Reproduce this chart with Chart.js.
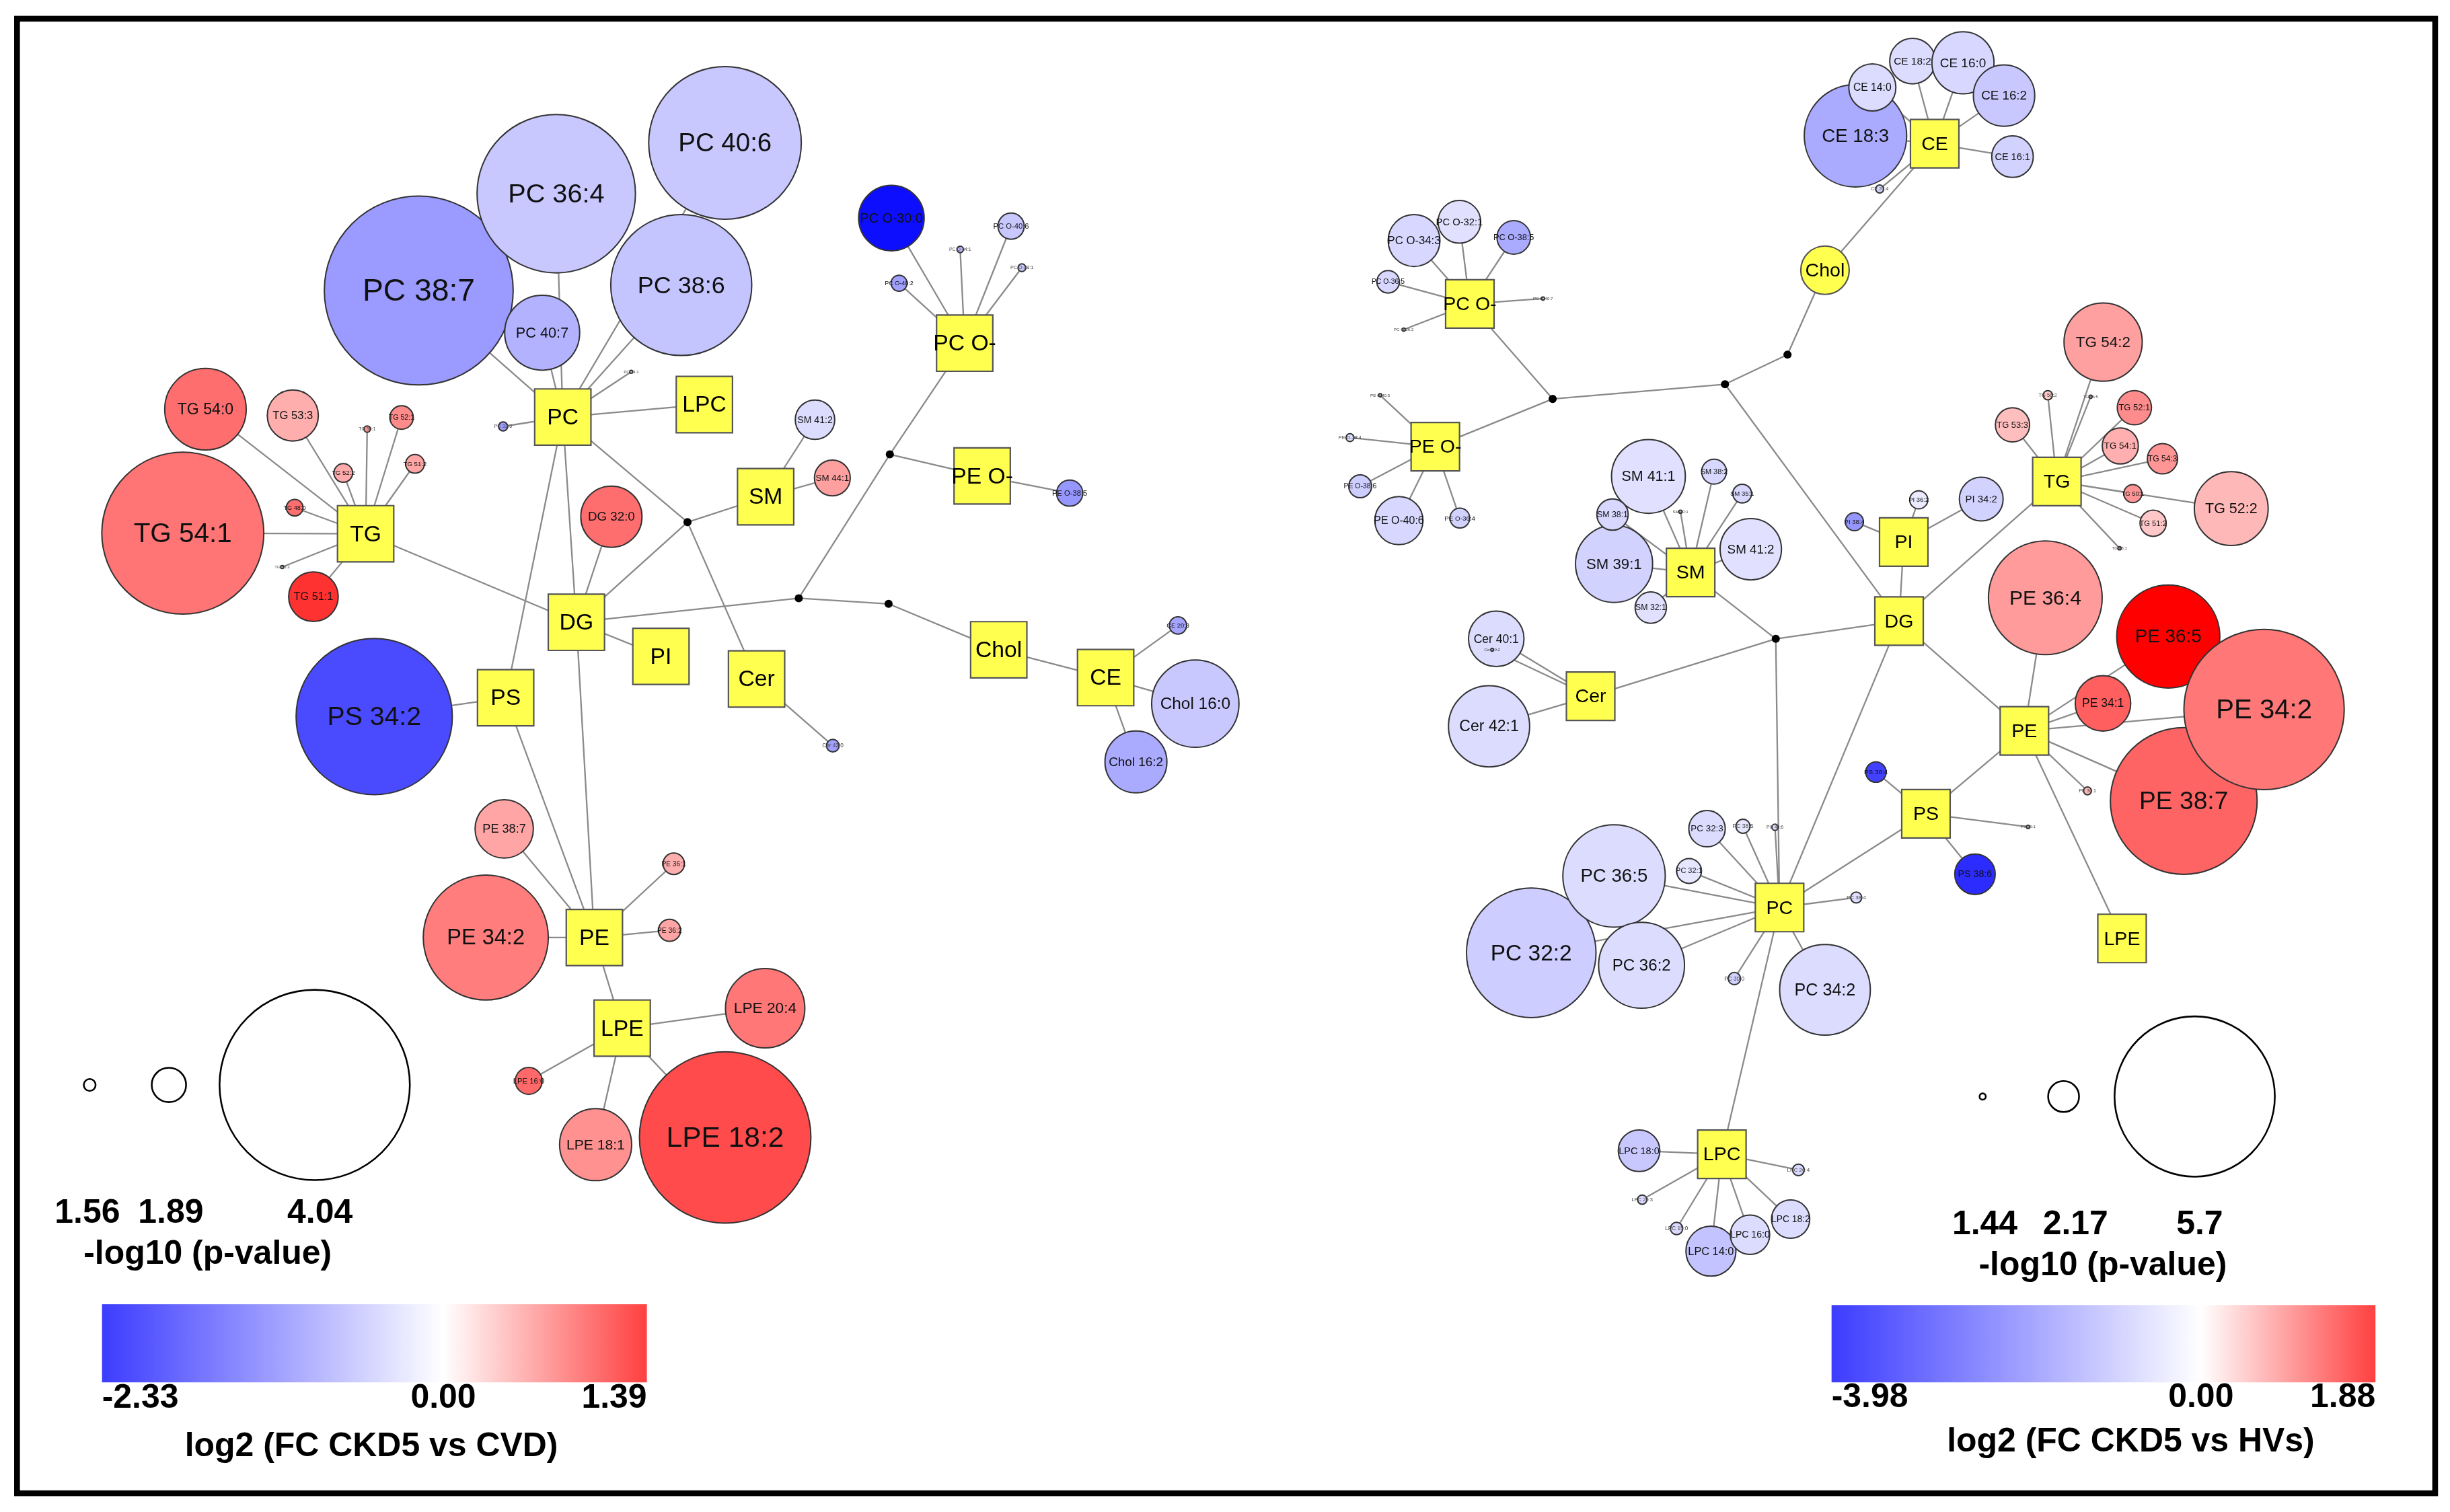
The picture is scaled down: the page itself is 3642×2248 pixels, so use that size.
<!DOCTYPE html>
<html>
<head>
<meta charset="utf-8">
<script src="https://cdn.jsdelivr.net/npm/chart.js@4.4.1/dist/chart.umd.min.js"></script>
<style>
html, body { margin: 0; padding: 0; background: #fff; }
canvas { display: block; }
</style>
</head>
<body>
<canvas id="net" width="3642" height="2248"></canvas>
<script>
// layout grid the node coordinates are read in (reference scaled to 1568 wide)
const W = 1568, H = 968;

// ---------- left network: CKD5 vs CVD ----------
const leftNames = ['PC 38:7','PC 36:4','PC 40:6','PC 38:6','PC 40:7','PC 34:1','PC 32:0',
  'TG 54:1','TG 54:0','TG 53:3','TG 51:1','TG 52:1','TG 52:2','TG 51:2','TG 48:0','TG 50:1','TG 56:2',
  'DG 32:0','SM 41:2','SM 44:1',
  'PC O-30:0','PC O-40:6','PC O-34:1','PC O-38:1','PC O-40:2',
  'PE O-38:5','Cer 42:0',
  'Chol 16:0','Chol 16:2','CE 20:3',
  'PS 34:2',
  'PE 34:2','PE 38:7','PE 36:1','PE 36:2',
  'LPE 18:2','LPE 20:4','LPE 18:1','LPE 16:0'];
const leftClass = ['PC','PC','PC','PC','PC','PC','PC',
  'TG','TG','TG','TG','TG','TG','TG','TG','TG','TG',
  'DG','SM','SM',
  'PC O-','PC O-','PC O-','PC O-','PC O-',
  'PE O-','Cer',
  'CE','CE','CE',
  'PS',
  'PE','PE','PE','PE',
  'LPE','LPE','LPE','LPE'];
const leftX = [268,356,464,436,347,404,322, 117,131.5,187.4,200.6,257,219.7,265.6,188.6,235,180.6,
  391.3,521.6,532.7, 570.5,647.1,614.5,654,575.4, 684.6,533, 765,727,753.9, 239.5,
  310.9,322.7,431.2,428.5, 464.1,489.7,381.2,338.4];
const leftY = [186,124,91.5,182.5,213,238,273, 341.3,262,266,382,267.3,302.8,297,325,274.7,363,
  330.8,268.7,306, 139.6,144.8,159.7,171.4,181.3, 315.7,477.4, 450.5,487.8,400.4, 458.8,
  600.2,530.7,553,595.6, 728.2,645.5,732.8,692];
const leftLogP = [4.02,3.60,3.52,3.36,2.45,1.43,1.52, 3.65,2.54,2.12,2.10,1.73,1.66,1.66,1.63,1.48,1.43,
  2.26,1.96,1.91, 2.32,1.77,1.48,1.50,1.62, 1.77,1.57, 2.62,2.27,1.64, 3.57,
  3.14,2.22,1.70,1.71, 3.78,2.51,2.41,1.78];
const leftFC = [-0.92,-0.50,-0.50,-0.54,-0.70,-0.30,-0.90, 0.76,0.79,0.44,1.12,0.63,0.46,0.49,0.79,0.55,0.30,
  0.79,-0.32,0.52, -2.20,-0.50,-0.60,-0.50,-0.87, -0.96,-0.87, -0.50,-0.78,-0.82, -1.65,
  0.71,0.49,0.44,0.49, 0.98,0.74,0.60,0.82];
const leftHubs = ['PC','LPC','TG','DG','PI','PS','Cer','SM','PC O-','PE O-','Chol','CE','PE','LPE'];
const leftHubX = [360.2,450.8,234,368.9,423,323.6,484.2,490,617.4,628.6,639.2,707.6,380.4,398.2];
const leftHubY = [267,259,341.7,398.4,420.2,446.7,434.7,318,219.7,304.7,416,433.8,600.2,658.2];
const leftJunctX = [440,569.5,511.2,568.7];
const leftJunctY = [334.3,290.9,383,386.6];
const leftLinks = [['PC','LPC'],['PC','DG'],['PC','PS'],['PC','j1'],['j1','SM'],['j1','Cer'],['j1','DG'],
  ['TG','DG'],['DG','PI'],['DG','PE'],['DG','j3'],['j3','j2'],['j2','PC O-'],['j2','PE O-'],
  ['j3','j4'],['j4','Chol'],['Chol','CE'],['PS','PE'],['PE','LPE']];
const leftPTicks = [1.56, 1.89, 4.04];
const leftFCRange = [-2.33, 1.39];

// ---------- right network: CKD5 vs HVs ----------
const rightNames = ['CE 18:3','CE 14:0','CE 18:2','CE 16:0','CE 16:2','CE 16:1','CE 20:4',
  'PC O-34:3','PC O-32:1','PC O-38:5','PC O-36:5','PC O-40:7','PC O-36:2',
  'PE O-40:6','PE O-38:6','PE O-36:4','PE O-38:4','PE O-40:5',
  'SM 41:1','SM 39:1','SM 41:2','SM 38:1','SM 32:1','SM 38:2','SM 35:1','SM 40:1',
  'Cer 40:1','Cer 42:1','Cer 40:2',
  'PI 34:2','PI 36:2','PI 38:4',
  'TG 54:2','TG 53:3','TG 52:1','TG 54:1','TG 54:3','TG 52:2','TG 50:1','TG 51:2','TG 56:2','TG 54:5','TG 48:1',
  'PE 36:4','PE 36:5','PE 38:7','PE 34:2','PE 34:1','PE 36:1',
  'PS 38:4','PS 38:6','PS 36:1',
  'PC 32:2','PC 36:5','PC 36:2','PC 34:2','PC 32:3','PC 38:5','PC 40:6','PC 32:1','PC 38:4','PC 30:0',
  'LPC 18:0','LPC 20:4','LPC 20:3','LPC 15:0','LPC 14:0','LPC 16:0','LPC 18:2'];
const rightClass = ['CE','CE','CE','CE','CE','CE','CE',
  'PC O-','PC O-','PC O-','PC O-','PC O-','PC O-',
  'PE O-','PE O-','PE O-','PE O-','PE O-',
  'SM','SM','SM','SM','SM','SM','SM','SM',
  'Cer','Cer','Cer',
  'PI','PI','PI',
  'TG','TG','TG','TG','TG','TG','TG','TG','TG','TG','TG',
  'PE','PE','PE','PE','PE','PE',
  'PS','PS','PS',
  'PC','PC','PC','PC','PC','PC','PC','PC','PC','PC',
  'LPC','LPC','LPC','LPC','LPC','LPC','LPC'];
const rightX = [1187.5,1198.3,1224,1256.3,1282.6,1288,1203,
  905,934,968.8,888.4,987.5,898.4,
  895.3,870.5,934.3,864,883.3,
  1055,1033,1120.5,1032,1056.5,1097,1115,1075.5,
  957.6,953,955,
  1268,1228,1186.8,
  1346,1288,1366,1357,1384,1428,1365,1378,1310.6,1338,1356.5,
  1309,1387.7,1397.6,1449,1345.9,1336,
  1200.6,1264,1298,
  980,1033,1050.6,1168,1092.5,1115.5,1136,1081,1188,1110,
  1049,1151,1051,1073,1095,1120,1146];
const rightY = [86.9,56,39.1,40.2,61.2,100.3,121,
  154,142,152,180.4,191.1,211,
  333.3,311.3,331.7,280.2,253,
  305,361,351.6,329.4,389,302,316,327.6,
  409,465,416,
  319.5,320,334,
  219,272,261,285.5,293.7,325.6,316,335,253,254,351,
  382.7,407.5,512.8,454.2,450.3,506.3,
  494.3,559.7,529.4,
  610,560.8,618,633.7,530.5,529,529.6,557.6,574.6,626.5,
  736.7,749,768,786.5,801,790.5,780.5];
const rightLogP = [4.12,2.61,2.57,3.02,3.00,2.46,1.49,
  2.74,2.49,2.24,1.92,1.35,1.35,
  2.64,1.93,1.84,1.49,1.35,
  3.34,3.43,3.00,2.18,2.18,1.99,1.81,1.35,
  2.84,3.54,1.33,
  2.52,1.79,1.79,
  3.46,2.26,2.26,2.31,2.15,3.34,1.79,2.03,1.53,1.35,1.35,
  4.43,4.14,5.33,5.70,2.84,1.49,
  1.86,2.43,1.35,
  4.86,4.12,3.67,3.80,2.32,1.67,1.44,1.99,1.58,1.62,
  2.46,1.60,1.53,1.62,2.69,2.40,2.37];
const rightFC = [-1.33,-0.55,-0.55,-0.62,-0.86,-0.70,-0.60,
  -0.62,-0.47,-1.33,-0.62,-0.50,-0.50,
  -0.62,-0.78,-0.70,-0.50,-0.50,
  -0.47,-0.70,-0.47,-0.62,-0.47,-0.62,-0.62,-0.50,
  -0.55,-0.55,-0.50,
  -0.70,-0.31,-1.64,
  0.70,0.48,0.85,0.59,0.78,0.52,0.78,0.41,0.40,0.50,0.50,
  0.74,1.88,1.14,1.00,1.18,0.50,
  -2.97,-3.30,-0.50,
  -0.78,-0.55,-0.55,-0.55,-0.55,-0.39,-0.50,-0.39,-0.50,-0.70,
  -0.86,-0.60,-0.60,-0.60,-0.94,-0.55,-0.55];
const rightHubs = ['CE','Chol','PC O-','PE O-','TG','PI','SM','DG','Cer','PE','PS','LPE','PC','LPC'];
const rightHubX = [1238.2,1168,940.7,918.6,1316.4,1218.4,1082,1215.4,1018,1295.6,1232.6,1358.1,1138.9,1102];
const rightHubY = [92,173,194.6,286,308.3,347,366.5,397.6,445.7,467.9,521,600.8,581,739];
const rightJunctX = [993.7,1104,1144,1136.5];
const rightJunctY = [255.4,246,227,409];
const rightLinks = [['PC O-','j1'],['PE O-','j1'],['j1','j2'],['j2','j3'],['j3','Chol'],['Chol','CE'],
  ['j2','DG'],['DG','PI'],['DG','TG'],['DG','PE'],['DG','PC'],['DG','j4'],['j4','SM'],['j4','Cer'],
  ['j4','PC'],['PE','PS'],['PS','PC'],['PE','LPE'],['PC','LPC']];
const rightPTicks = [1.44, 2.17, 5.7];
const rightFCRange = [-3.98, 1.88];

// ---------- styling / legend placement ----------
const panels = [
  { names: leftNames, cls: leftClass, x: leftX, y: leftY, logP: leftLogP, fc: leftFC,
    hubs: leftHubs, hubX: leftHubX, hubY: leftHubY, jx: leftJunctX, jy: leftJunctY, links: leftLinks,
    pTicks: leftPTicks, fcRange: leftFCRange, fcTitle: 'log2 (FC CKD5 vs CVD)',
    legendR: [3.8, 11, 60.9], hubHalf: 18, hubFont: 14.5, circleHubs: [],
    legend: { cx: [57.4, 108.1, 201.4], cy: 694.6, tx: [55.9, 109.3, 204.8], ty: 777,
      pTitle: [132.9, 803.3], bar: [65.3, 414, 835, 885], fcTickY: 895.5, title: [237.7, 926.3] } },
  { names: rightNames, cls: rightClass, x: rightX, y: rightY, logP: rightLogP, fc: rightFC,
    hubs: rightHubs, hubX: rightHubX, hubY: rightHubY, jx: rightJunctX, jy: rightJunctY, links: rightLinks,
    pTicks: rightPTicks, fcRange: rightFCRange, fcTitle: 'log2 (FC CKD5 vs HVs)',
    legendR: [2, 9.9, 51.3], hubHalf: 15.5, hubFont: 12.3, circleHubs: ['Chol'],
    legend: { cx: [1268.9, 1320.7, 1404.6], cy: 702, tx: [1270.3, 1328.3, 1407.8], ty: 784.2,
      pTitle: [1345.8, 810.5], bar: [1172.2, 1520.3, 835.5, 885], fcTickY: 894.9, title: [1363.7, 923.4] } }
];

const FONT = '"Liberation Sans", Arial, sans-serif';

// node radius (layout units) from -log10 p, following the size legend
function radiusFor(P, p) {
  const xs = P.pTicks, ys = P.legendR;
  const i = p <= xs[1] ? 0 : 1;
  const r = ys[i] + (p - xs[i]) / (xs[i + 1] - xs[i]) * (ys[i + 1] - ys[i]);
  return Math.max(r, 0.9);
}

function fcColor(fc, range) {
  const t = fc >= 0 ? Math.min(fc / range[1], 1) : Math.min(fc / range[0], 1);
  const c = Math.round(255 * (1 - t));
  return fc >= 0 ? `rgb(255,${c},${c})` : `rgb(${c},${c},255)`;
}

const edgeData = [], junctionData = [], hubData = [], hubStyles = [], hubRadii = [], hubLabels = [], hubFonts = [];
const nodeSets = [];

panels.forEach(P => {
  const pos = {};
  P.hubs.forEach((h, i) => pos[h] = { x: P.hubX[i], y: P.hubY[i] });
  P.jx.forEach((x, i) => pos['j' + (i + 1)] = { x: x, y: P.jy[i] });
  P.links.forEach(([a, b]) => edgeData.push({ ...pos[a] }, { ...pos[b] }, { x: null, y: null }));
  P.names.forEach((n, i) => edgeData.push({ ...pos[P.cls[i]] }, { x: P.x[i], y: P.y[i] }, { x: null, y: null }));
  P.jx.forEach((x, i) => junctionData.push({ x: x, y: P.jy[i] }));
  P.hubs.forEach((h, i) => {
    hubData.push({ x: P.hubX[i], y: P.hubY[i] });
    const round = P.circleHubs.includes(h);
    hubStyles.push(round ? 'circle' : 'rect');
    hubRadii.push(round ? P.hubHalf : P.hubHalf / Math.SQRT1_2);
    hubLabels.push(h);
    hubFonts.push(P.hubFont);
  });
  const radii = P.logP.map(p => radiusFor(P, p));
  nodeSets.push({
    label: P.fcTitle,
    data: P.names.map((n, i) => ({ x: P.x[i], y: P.y[i] })),
    pointRadius: c => radii[c.dataIndex ?? 0] * c.chart.width / W,
    pointBackgroundColor: P.fc.map(v => fcColor(v, P.fcRange)),
    pointBorderColor: '#333',
    pointBorderWidth: 2,
    order: 5,
    nodeLabels: P.names,
    labelSize: radii.map(r => 2.4 + 0.29 * r),
    labelColor: radii.map(r => r < 5 ? '#444' : '#111')
  });
});

const nodeLabelPlugin = {
  id: 'nodeLabels',
  afterDatasetsDraw(chart) {
    const ctx = chart.ctx, S = chart.width / W;
    ctx.save();
    ctx.textAlign = 'center';
    ctx.textBaseline = 'middle';
    chart.data.datasets.forEach((ds, di) => {
      if (!ds.nodeLabels) return;
      chart.getDatasetMeta(di).data.forEach((pt, i) => {
        ctx.font = `${ds.labelSize[i] * S}px ${FONT}`;
        ctx.fillStyle = ds.labelColor[i];
        ctx.fillText(ds.nodeLabels[i], pt.x, pt.y + 0.05 * ds.labelSize[i] * S);
      });
    });
    ctx.restore();
  }
};

const legendPlugin = {
  id: 'panelLegends',
  afterDraw(chart) {
    const ctx = chart.ctx, S = chart.width / W;
    const X = v => chart.scales.x.getPixelForValue(v);
    const Y = v => chart.scales.y.getPixelForValue(v);
    ctx.save();
    // outer frame
    ctx.strokeStyle = '#000';
    ctx.lineWidth = 3.7 * S;
    ctx.strokeRect(X(10.9), Y(12), X(1558.5) - X(10.9), Y(956) - Y(12));

    panels.forEach(P => {
      const L = P.legend;
      ctx.lineWidth = 1.1 * S;
      ctx.strokeStyle = '#000';
      P.pTicks.forEach((p, i) => {
        ctx.beginPath();
        ctx.arc(X(L.cx[i]), Y(L.cy), radiusFor(P, p) * S, 0, Math.PI * 2);
        ctx.stroke();
      });
      ctx.font = `bold ${21.5 * S}px ${FONT}`;
      ctx.fillStyle = '#000';
      ctx.textAlign = 'center';
      ctx.textBaseline = 'middle';
      P.pTicks.forEach((p, i) => ctx.fillText(String(p), X(L.tx[i]), Y(L.ty)));
      ctx.fillText('-log10 (p-value)', X(L.pTitle[0]), Y(L.pTitle[1]));

      const [lo, hi] = P.fcRange;
      const x0 = X(L.bar[0]), x1 = X(L.bar[1]), y0 = Y(L.bar[2]), y1 = Y(L.bar[3]);
      const zf = -lo / (hi - lo);
      const g = ctx.createLinearGradient(x0, 0, x1, 0);
      g.addColorStop(0, 'rgb(60,60,255)');
      g.addColorStop(zf, '#ffffff');
      g.addColorStop(1, 'rgb(255,64,64)');
      ctx.fillStyle = g;
      ctx.fillRect(x0, y0, x1 - x0, y1 - y0);

      ctx.fillStyle = '#000';
      const ty = Y(L.fcTickY);
      ctx.textAlign = 'left';
      ctx.fillText(lo.toFixed(2), x0, ty);
      ctx.textAlign = 'center';
      ctx.fillText((0).toFixed(2), x0 + zf * (x1 - x0), ty);
      ctx.textAlign = 'right';
      ctx.fillText(hi.toFixed(2), x1, ty);
      ctx.textAlign = 'center';
      ctx.fillText(P.fcTitle, X(L.title[0]), Y(L.title[1]));
    });
    ctx.restore();
  }
};

new Chart('net', {
  type: 'scatter',
  data: {
    datasets: [
      { label: 'edges', data: edgeData, showLine: true, spanGaps: false, borderColor: '#8a8a8a',
        borderWidth: 2.3, pointRadius: 0, order: 10 },
      { label: 'junctions', data: junctionData, pointRadius: c => 2.6 * c.chart.width / W,
        pointBackgroundColor: '#000', pointBorderWidth: 0, order: 6 },
      ...nodeSets,
      { label: 'classes', data: hubData, pointStyle: hubStyles,
        pointRadius: c => hubRadii[c.dataIndex ?? 0] * c.chart.width / W,
        pointBackgroundColor: '#ffff50', pointBorderColor: '#555', pointBorderWidth: 2.2, order: 3,
        nodeLabels: hubLabels, labelSize: hubFonts, labelColor: hubLabels.map(() => '#000') }
    ]
  },
  options: {
    responsive: false,
    devicePixelRatio: 1,
    animation: false,
    events: [],
    layout: { padding: 0, autoPadding: false },
    plugins: { legend: { display: false }, tooltip: { enabled: false } },
    scales: {
      x: { type: 'linear', min: 0, max: W, display: false },
      y: { type: 'linear', min: 0, max: H, reverse: true, display: false }
    }
  },
  plugins: [nodeLabelPlugin, legendPlugin]
});
</script>
</body>
</html>
